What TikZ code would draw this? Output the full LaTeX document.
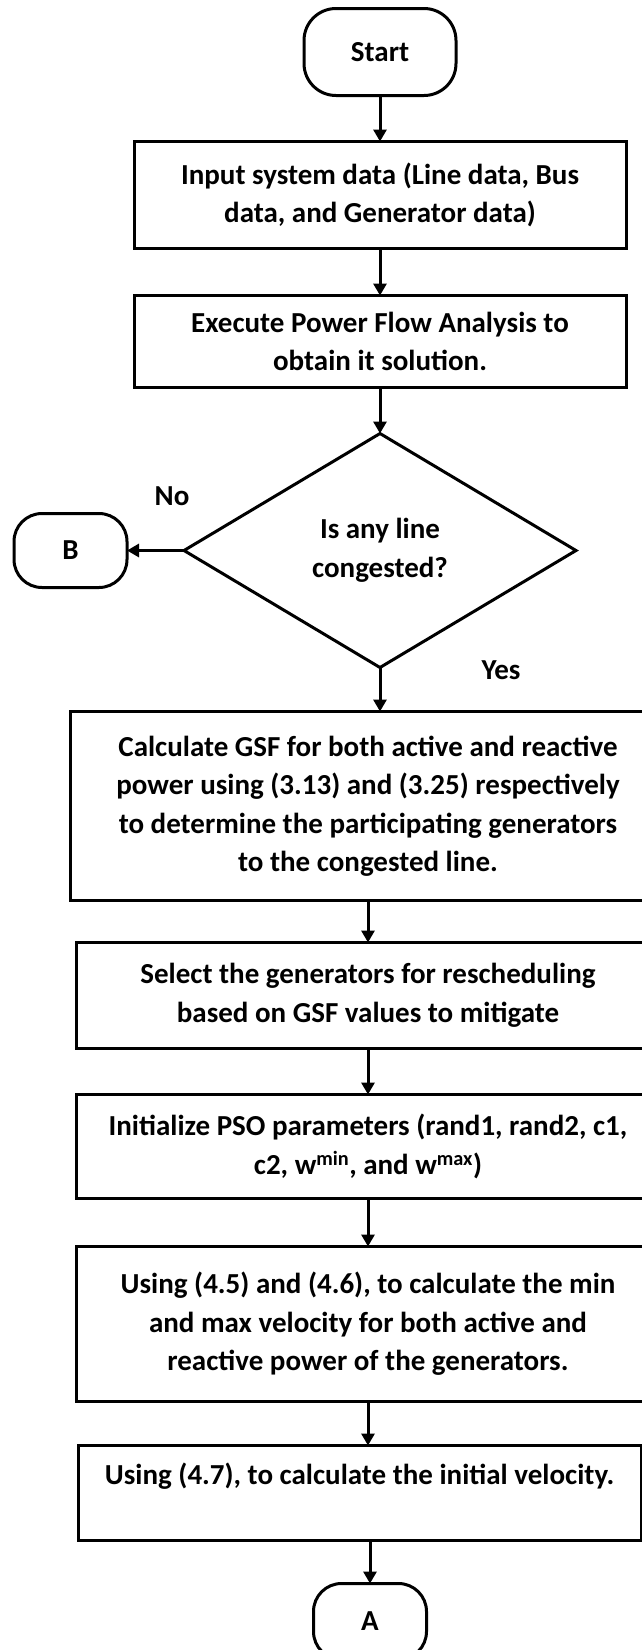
\documentclass[tikz,border=0pt]{standalone}
\usepackage{fontspec}
\setmainfont{Carlito}
\usetikzlibrary{arrows.meta,positioning,shapes.geometric}

\begin{document}
\begin{tikzpicture}
    [->,>={Triangle[length=12pt,width=13pt]},line width=3pt,node distance=45pt,
        font=\fontsize{29pt}{38.5pt}\selectfont\bfseries,every node/.style={outer sep=0pt},
        term/.style={draw,rectangle,rounded corners=28pt,minimum width=113pt,minimum height=74pt},
        proc/.style={draw,rectangle,align=center,inner sep=4pt},
        decision/.style={draw,diamond,aspect=1.675,minimum width=392pt,minimum height=234pt,inner sep=0pt,align=center}]

    \useasboundingbox (0,0) rectangle (642pt,-1650pt);

    \node[term,minimum width=152pt,minimum height=87pt,rounded corners=32pt] (start) at (380pt,-52pt) {Start};
    \node[proc,minimum width=492pt,minimum height=107pt] (inp) [below=46pt of start] {Input system data (Line data, Bus\\data, and Generator data)};
    \node[proc,minimum width=492pt,minimum height=92pt] (pf) [below=47pt of inp] {Execute Power Flow Analysis to\\obtain it solution.};
    \node[decision] (cong) [below=46pt of pf] {Is any line\\congested?};
    \node[term] (B) [left=57pt of cong] {B};
    \node[proc,minimum width=596pt,minimum height=189pt] (gsf) [below=44pt of cong,xshift=-12pt] {Calculate GSF for both active and reactive\\power using (3.13) and (3.25) respectively\\to determine the participating generators\\to the congested line.};
    \node[proc,minimum width=584pt,minimum height=106pt] (sel) [below=42pt of gsf] {Select the generators for rescheduling\\based on GSF values to mitigate};
    \node[proc,minimum width=584pt,minimum height=104pt] (pso) [below=46pt of sel] {Initialize PSO parameters (rand1, rand2, c1,\\c2, w\textsuperscript{min}, and w\textsuperscript{max})};
    \node[proc,minimum width=584pt,minimum height=155pt] (vel) [below=48pt of pso] {Using (4.5) and (4.6), to calculate the min\\and max velocity for both active and\\reactive power of the generators.};
    \node[proc,minimum width=563pt,minimum height=95pt] (ivel) [below=44pt of vel,xshift=-8.5pt] {Using (4.7), to calculate the initial velocity.\\\mbox{}};
    \node[term,minimum height=76pt] (A) [below=43pt of ivel,xshift=10.5pt] {A};

    \path[]
    (start) edge (inp)
    (inp) edge (pf)
    (pf) edge (cong)
    (cong) edge node[at start,xshift=-12pt,yshift=54pt] {No} (B)
    (cong.south) edge node[at start,xshift=121pt,yshift=-3pt] {Yes} (cong.south |- gsf.north)
    (gsf) edge (sel)
    (sel) edge (pso)
    (pso) edge (vel)
    (vel.south) edge (vel.south |- ivel.north)
    (ivel.south -| A.north) edge (A)
    ;
\end{tikzpicture}
\end{document}
